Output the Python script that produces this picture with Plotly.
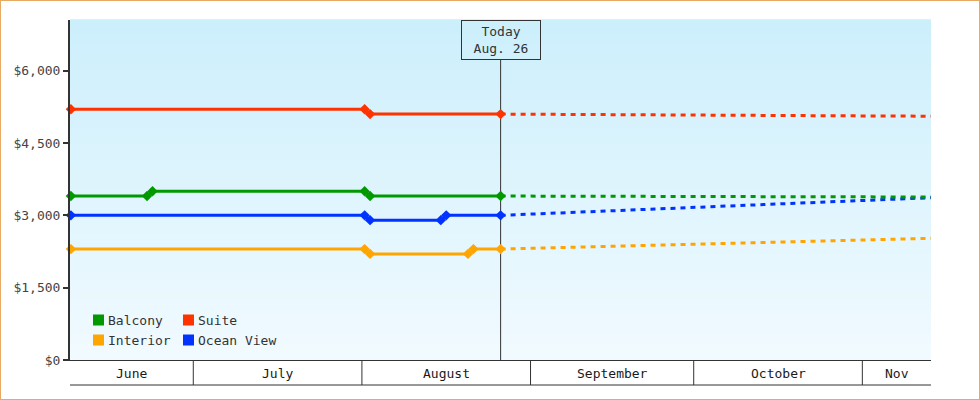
import plotly.graph_objects as go
import pandas as pd

# ---------------- data ----------------
series_names = ["Balcony", "Suite", "Interior", "Ocean View"]
series_colors = ["#009900", "#FF3300", "#FFA500", "#0033FF"]

balcony_dates = ["2012-06-08", "2012-06-22", "2012-06-23", "2012-08-01", "2012-08-02", "2012-08-26"]
balcony_prices = [3400, 3400, 3500, 3500, 3400, 3400]

suite_dates = ["2012-06-08", "2012-08-01", "2012-08-02", "2012-08-26"]
suite_prices = [5200, 5200, 5100, 5100]

interior_dates = ["2012-06-08", "2012-08-01", "2012-08-02", "2012-08-20", "2012-08-21", "2012-08-26"]
interior_prices = [2300, 2300, 2200, 2200, 2300, 2300]

ocean_dates = ["2012-06-08", "2012-08-01", "2012-08-02", "2012-08-15", "2012-08-16", "2012-08-26"]
ocean_prices = [3000, 3000, 2900, 2900, 3000, 3000]

forecast_dates = ["2012-08-26", "2012-11-14"]
balcony_forecast = [3400, 3380]
suite_forecast = [5100, 5055]
interior_forecast = [2300, 2525]
ocean_forecast = [3000, 3370]

today_date = "2012-08-26"
today_label = "Today<br>Aug. 26"

month_starts = ["2012-06-01", "2012-07-01", "2012-08-01", "2012-09-01",
                "2012-10-01", "2012-11-01", "2012-12-01"]
month_labels = ["June", "July", "August", "September", "October", "Nov"]

y_ticks = [0, 1500, 3000, 4500, 6000]
y_tick_labels = ["$0", "$1,500", "$3,000", "$4,500", "$6,000"]

x_range = ["2012-06-08 08:00", "2012-11-13 15:00"]
y_range = [0, 7051]

# ---------------- layout helpers ----------------
W, H = 980, 400
L, R, T, B = 70, 49, 20, 40
PW, PH = W - L - R, H - T - B
FONT = "DejaVu Sans Mono"


def px_x(x):
    return (x - L) / PW


def px_y(y):
    return (H - B - y) / PH


def midday(dates):
    # each daily price is plotted at mid-day
    return pd.to_datetime(dates) + pd.Timedelta(hours=12)


fig = go.Figure()

solid = {
    "Balcony": (balcony_dates, balcony_prices),
    "Suite": (suite_dates, suite_prices),
    "Interior": (interior_dates, interior_prices),
    "Ocean View": (ocean_dates, ocean_prices),
}
forecast = {
    "Balcony": balcony_forecast,
    "Suite": suite_forecast,
    "Interior": interior_forecast,
    "Ocean View": ocean_forecast,
}
color_of = dict(zip(series_names, series_colors))
draw_order = ["Ocean View", "Interior", "Balcony", "Suite"]

for name in draw_order:
    fig.add_trace(go.Scatter(
        x=midday(forecast_dates), y=forecast[name], mode="lines",
        line=dict(color=color_of[name], width=3, dash="5px,5px"),
        showlegend=False, hoverinfo="skip"))

for name in draw_order:
    d, v = solid[name]
    fig.add_trace(go.Scatter(
        x=midday(d), y=v, mode="lines+markers", name=name,
        line=dict(color=color_of[name], width=3),
        marker=dict(symbol="diamond", size=8, color=color_of[name]),
        cliponaxis=False, showlegend=False))

shapes = []
# gradient background
top_c = (204, 239, 252)
bot_c = (241, 250, 255)
N = 68
for i in range(N):
    t = i / (N - 1)
    c = tuple(round(top_c[k] + (bot_c[k] - top_c[k]) * t) for k in range(3))
    shapes.append(dict(type="rect", xref="paper", yref="paper",
                       x0=0, x1=1, y0=1 - (i + 1) / N, y1=1 - i / N + 0.002,
                       fillcolor="rgb(%d,%d,%d)" % c, line=dict(width=0),
                       layer="below"))

# today line
today_x = midday([today_date])[0]
shapes.append(dict(type="line", xref="x", yref="paper", x0=today_x, x1=today_x,
                   y0=0, y1=px_y(60), line=dict(color="#333333", width=1),
                   layer="below"))

# month boxes under the axis
rs, re_ = pd.Timestamp(x_range[0]), pd.Timestamp(x_range[1])
ms = pd.to_datetime(month_starts)
annotations = []
for i, lab in enumerate(month_labels):
    a, b = ms[i], ms[i + 1]
    if rs < a < re_:
        shapes.append(dict(type="line", xref="x", yref="paper", x0=a, x1=a,
                           y0=px_y(360), y1=px_y(385),
                           line=dict(color="#333333", width=1)))
    lo, hi = max(a, rs), min(b, re_)
    annotations.append(dict(x=lo + (hi - lo) / 2, y=px_y(373), xref="x", yref="paper",
                            text=lab, showarrow=False, xanchor="center", yanchor="middle",
                            font=dict(family=FONT, size=13, color="#1a1a1a")))
shapes.append(dict(type="line", xref="paper", yref="paper", x0=0, x1=1,
                   y0=px_y(385), y1=px_y(385), line=dict(color="#333333", width=1)))

# outer orange frame
shapes.append(dict(type="rect", xref="paper", yref="paper",
                   x0=px_x(0), x1=px_x(W), y0=px_y(H), y1=px_y(0),
                   line=dict(color="#E8A962", width=2), fillcolor="rgba(0,0,0,0)"))

# legend (2 columns)
leg_pos = {"Balcony": (93, 320), "Suite": (183, 320),
           "Interior": (93, 340), "Ocean View": (183, 340)}
for name in series_names:
    x, y = leg_pos[name]
    shapes.append(dict(type="rect", xref="paper", yref="paper",
                       x0=px_x(x), x1=px_x(x + 11), y0=px_y(y + 5.5), y1=px_y(y - 5.5),
                       fillcolor=color_of[name], line=dict(width=0)))
    annotations.append(dict(x=px_x(x + 13), y=px_y(y), xref="paper", yref="paper",
                            text=name, showarrow=False, xanchor="left", yanchor="middle",
                            font=dict(family=FONT, size=13, color="#333333")))

# today label box
annotations.append(dict(x=today_x, y=1, xref="x", yref="paper", text=today_label,
                        showarrow=False, xanchor="center", yanchor="top",
                        width=76, height=36, borderpad=1, borderwidth=1,
                        bordercolor="#333333", bgcolor="rgba(0,0,0,0)",
                        font=dict(family=FONT, size=13, color="#333333")))

fig.update_layout(
    width=W, height=H, margin=dict(l=L, r=R, t=T, b=B),
    paper_bgcolor="white", plot_bgcolor="white",
    shapes=shapes, annotations=annotations, showlegend=False,
    font=dict(family=FONT, size=13, color="#333333"),
    xaxis=dict(type="date", range=x_range, showticklabels=False, ticks="",
               showgrid=False, zeroline=False, showline=True,
               linecolor="#333333", linewidth=1),
    yaxis=dict(range=y_range, tickmode="array", tickvals=y_ticks, ticktext=y_tick_labels,
               showgrid=False, zeroline=False, showline=True, linecolor="#333333",
               linewidth=2, ticks="outside", ticklen=5, tickwidth=2,
               tickcolor="#333333", tickfont=dict(family=FONT, size=13, color="#444444")),
)

fig.write_html("out.html", config={"displayModeBar": False},
               post_script="document.body.style.margin='0';")
